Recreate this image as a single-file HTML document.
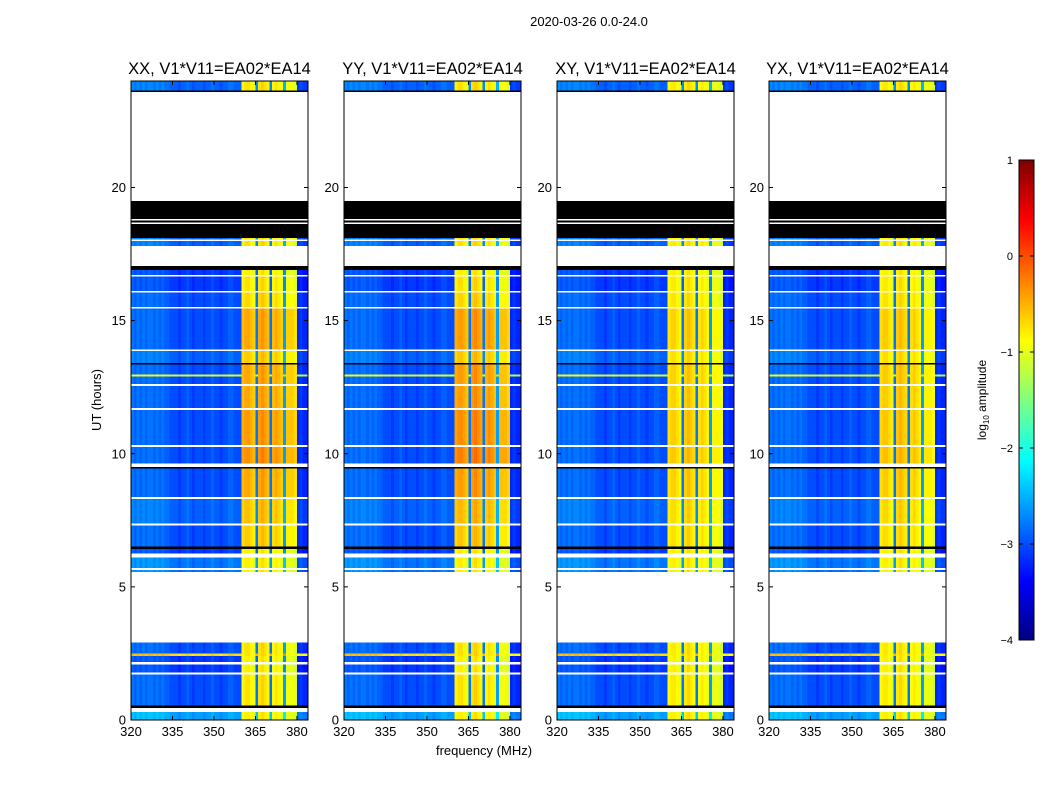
<!DOCTYPE html>
<html><head><meta charset="utf-8">
<style>
body{margin:0;background:#fff;}
svg{display:block;font-family:"Liberation Sans",sans-serif;}
</style></head>
<body>
<svg id="fig" width="1050" height="800" viewBox="0 0 1050 800">
<text x="589" y="26" font-size="13" text-anchor="middle">2020-03-26 0.0-24.0</text>
<text x="484" y="755" font-size="13" text-anchor="middle">frequency (MHz)</text>
<text transform="translate(101,400) rotate(-90)" font-size="13" text-anchor="middle">UT (hours)</text>
<g id="panels"></g>
<g id="cbar"></g>
</svg>
<script>
// ---- data ----
const panelTitles = ["XX, V1*V11=EA02*EA14","YY, V1*V11=EA02*EA14","XY, V1*V11=EA02*EA14","YX, V1*V11=EA02*EA14"];
const panelBandScale = [0.6, 0.7, 0.25, 0.3];
const freqStart = 320, freqEnd = 384;
// log10 amplitude per 1-MHz channel 320..383
const chanLevel = [
-2.9,-3.0,-2.9,-3.0,-2.9,-3.0,-2.9,-2.9,-3.0,-2.9,-3.0,-2.9,-3.0,-3.0,-3.1,
-3.1,-3.1,-3.2,-3.1,-3.1,-3.0,-3.1,-3.2,-3.1,-3.1,-3.1,-3.2,-3.1,-3.1,-3.0,
-3.1,-3.1,-3.2,-3.1,-3.1,-3.0,-3.0,-3.1,-3.1,-3.1,
-0.9,-0.8,-0.8,-0.9,-1.0,-2.9,-0.8,-0.7,-0.8,-0.9,-2.9,-0.9,-0.8,-0.9,-1.0,-2.7,-1.0,-1.0,-1.0,-1.1,
-3.3,-3.2,-3.3,-3.3];
const segStart = [0.00,0.30,0.45,0.55,1.70,1.78,2.08,2.18,2.40,2.50,2.92,5.55,5.64,5.70,6.10,6.25,6.42,6.52,7.30,7.38,8.30,8.38,9.45,9.50,9.63,10.25,10.32,11.65,11.72,12.55,12.62,12.90,12.98,13.35,13.40,13.85,13.92,15.45,15.52,16.05,16.12,16.65,16.72,16.90,17.05,17.80,18.00,18.05,18.10,18.62,18.68,18.76,18.82,19.50,23.58,23.65];
const segEnd   = [0.30,0.45,0.55,1.70,1.78,2.08,2.18,2.40,2.50,2.92,5.55,5.64,5.70,6.10,6.25,6.42,6.52,7.30,7.38,8.30,8.38,9.45,9.50,9.63,10.25,10.32,11.65,11.72,12.55,12.62,12.90,12.98,13.35,13.40,13.85,13.92,15.45,15.52,16.05,16.12,16.65,16.72,16.90,17.05,17.80,18.00,18.05,18.10,18.62,18.68,18.76,18.82,19.50,23.58,23.65,24.00];
// 0 = data, 1 = flagged (white), 2 = zero (black)
const segKind  = [0,1,2,0,1,0,1,0,0,0,1,0,1,0,1,0,2,0,1,0,1,0,2,1,0,1,0,1,0,1,0,0,0,2,0,1,0,1,0,1,0,1,0,2,1,0,1,0,2,1,2,1,2,1,2,0];
const segOff   = [0.5,0,0,0.1,0,0.0,0,0.0,2.4,0.1,0,0.3,0,0.3,0,0.0,0,0.1,0,0.2,0,0.1,0,0,0.1,0,0.1,0,0.1,0,0.1,2.0,0.1,0,0.2,0,0.1,0,0.1,0,0.0,0,0.0,0,0,0.2,0,0.2,0,0,0,0,0,0,0,0.2];
const segBand  = [0.0,0,0,0.1,0,0.0,0,0.0,0.1,0.1,0,0.0,0,0.0,0,0.0,0,0.3,0,0.4,0,0.6,0,0,0.8,0,0.7,0,0.6,0,0.6,0.6,0.6,0,0.3,0,0.6,0,0.2,0,0.1,0,0.0,0,0,0.1,0,0.1,0,0,0,0,0,0,0,0.1];
const yTicks = [0,5,10,15,20];
const xTicks = [320,335,350,365,380];
const cbTicks = [1,0,-1,-2,-3,-4];
const vmin = -4, vmax = 1;

// ---- layout ----
const NS = "http://www.w3.org/2000/svg";
const panelX0 = [131,344,557,769], panelW = 177;
const plotTop = 81, plotBot = 720;
const yScale = h => plotBot - h/24*(plotBot-plotTop);
function jet(v){
  let t = Math.max(0, Math.min(1, (v - vmin)/(vmax - vmin)));
  const c = x => Math.round(255*Math.max(0, Math.min(1, x)));
  return `rgb(${c(1.5-Math.abs(4*t-3))},${c(1.5-Math.abs(4*t-2))},${c(1.5-Math.abs(4*t-1))})`;
}
function mk(tag, attrs, parent){
  const e = document.createElementNS(NS, tag);
  for (const k in attrs) e.setAttribute(k, attrs[k]);
  parent.appendChild(e); return e;
}
const panels = document.getElementById("panels");
panelTitles.forEach((title, p) => {
  const x0 = panelX0[p];
  const xScale = f => x0 + (f - freqStart)/(freqEnd - freqStart)*panelW;
  const g = mk("g", {}, panels);
  
  
  const hm = mk("g", {"shape-rendering":"crispEdges"}, g);
  
  
  for (let s = 0; s < segStart.length; s++) {
    const y1 = yScale(segEnd[s]), y2 = yScale(segStart[s]);
    if (segKind[s] !== 0) {
      const r = mk("rect", {x:x0, y:y1, width:panelW, height:Math.max(0.8,y2-y1), fill: segKind[s]===1 ? "#fff" : "#000"}, hm);
      
      
      continue;
    }
    for (let c = 0; c < chanLevel.length; c++) {
      const base = chanLevel[c];
      const inBand = base > -2;
      const v = inBand ? base + segBand[s]*panelBandScale[p] : base + segOff[s];
      const xa = xScale(freqStart + c), xb = xScale(freqStart + c + 1);
      const r = mk("rect", {x:xa, y:y1, width:xb-xa+0.4, height:Math.max(0.8,y2-y1), fill: jet(v)}, hm);
      
      
    }
  }
  const fr = mk("rect", {x:x0, y:plotTop, width:panelW, height:plotBot-plotTop, fill:"none", stroke:"#000", "stroke-width":1}, g);
  
  
  const tt = mk("text", {x:x0+panelW/2, y:74, "font-size":16.5, "text-anchor":"middle"}, g);
  tt.textContent = title;
  
  
  yTicks.forEach(h => {
    const y = yScale(h);
    mk("line", {x1:x0, x2:x0+4, y1:y, y2:y, stroke:"#000"}, g);
    mk("line", {x1:x0+panelW-4, x2:x0+panelW, y1:y, y2:y, stroke:"#000"}, g);
    const t = mk("text", {x:x0-5, y:y+4.5, "font-size":13, "text-anchor":"end"}, g);
    t.textContent = h;
    
    
  });
  xTicks.forEach(f => {
    const x = xScale(f);
    mk("line", {x1:x, x2:x, y1:plotBot, y2:plotBot-4, stroke:"#000"}, g);
    mk("line", {x1:x, x2:x, y1:plotTop, y2:plotTop+4, stroke:"#000"}, g);
    const t = mk("text", {x:x, y:plotBot+16, "font-size":13, "text-anchor":"middle"}, g);
    t.textContent = f;
    
    
  });
});
// colorbar
const cb = document.getElementById("cbar");
const cbX = 1019, cbW = 15, cbTop = 160, cbBot = 640;
const cbY = v => cbBot - (v - vmin)/(vmax - vmin)*(cbBot - cbTop);
for (let i = 0; i < 240; i++) {
  const v0 = vmin + i*(vmax-vmin)/240, v1 = vmin + (i+1)*(vmax-vmin)/240;
  const r = mk("rect", {x:cbX, y:cbY(v1), width:cbW, height:cbY(v0)-cbY(v1)+0.5, fill:jet((v0+v1)/2), "shape-rendering":"crispEdges"}, cb);
  
  
}
mk("rect", {x:cbX, y:cbTop, width:cbW, height:cbBot-cbTop, fill:"none", stroke:"#000"}, cb);
cbTicks.forEach(v => {
  const y = cbY(v);
  mk("line", {x1:cbX, x2:cbX+4, y1:y, y2:y, stroke:"#000"}, cb);
  mk("line", {x1:cbX+cbW-4, x2:cbX+cbW, y1:y, y2:y, stroke:"#000"}, cb);
  const t = mk("text", {x:cbX-6, y:y+4, "font-size":11, "text-anchor":"end"}, cb);
  t.textContent = v < 0 ? "\u2212" + (-v) : v;
  
  
});
const cl = mk("text", {transform:"translate(986,400) rotate(-90)", "font-size":12, "text-anchor":"middle"}, cb);
cl.innerHTML = 'log<tspan font-size="8" dy="3">10</tspan><tspan dy="-3"> amplitude</tspan>';


</script>
</body></html>
